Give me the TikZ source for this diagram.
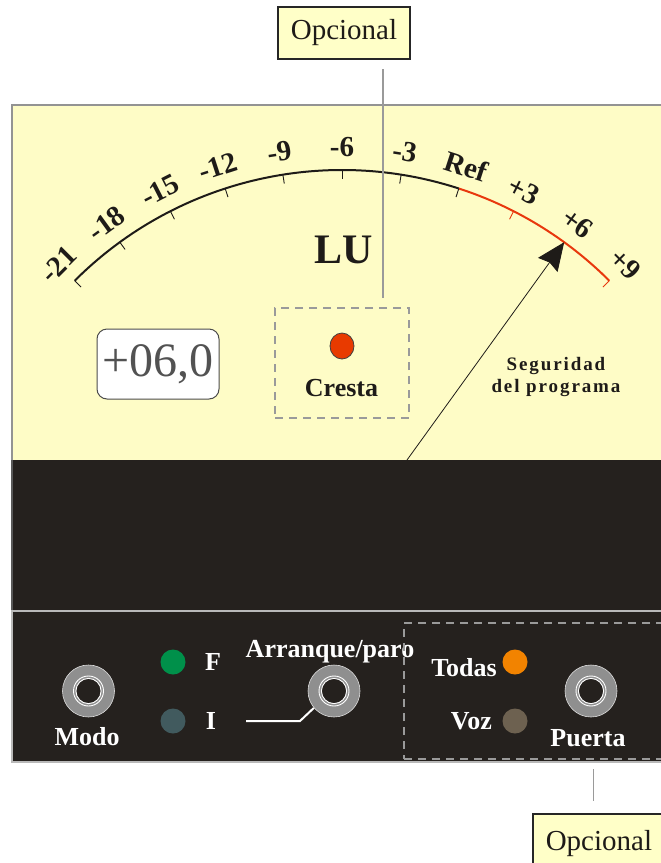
\documentclass[tikz,border=0pt]{standalone}
\usepackage{fontspec}
\setmainfont{Liberation Serif}
\newfontfamily\spacedfont[LetterSpace=10]{Liberation Serif}
\usetikzlibrary{arrows.meta,calc,shapes.geometric}
\definecolor{meteryellow}{HTML}{FEFCC6}
\definecolor{optyellow}{HTML}{FFFFC8}
\definecolor{panelblack}{HTML}{25211E}
\definecolor{scalered}{HTML}{E8380D}
\definecolor{ledred}{HTML}{E83A00}
\definecolor{ledgreen}{HTML}{00904A}
\definecolor{ledslate}{HTML}{415A5E}
\definecolor{ledorange}{HTML}{F28300}
\definecolor{ledbrown}{HTML}{6D6150}
\definecolor{knobgray}{HTML}{8F8F8F}
\definecolor{leadgray}{HTML}{9A9A9A}
\definecolor{inkblack}{HTML}{1E1B18}
\begin{document}
\begin{tikzpicture}[x=1pt,y=-1pt,
  scalelbl/.style={font=\bfseries\fontsize{29}{34}\selectfont, text=inkblack, inner sep=0pt},
  panellbl/.style={font=\bfseries\fontsize{26}{30}\selectfont, text=white, inner sep=0pt},
  meterlbl/.style={font=\bfseries\fontsize{26}{30}\selectfont, text=inkblack, inner sep=0pt},
  optbox/.style={draw=black!85, line width=1.5pt, fill=optyellow, font=\fontsize{29}{34}\selectfont, text=inkblack},
  dashbox/.style={draw=leadgray, line width=1.2pt, dash pattern=on 8pt off 6pt},
  leader/.style={draw=leadgray, line width=1.5pt},
  led/.style={circle, minimum size=25pt, inner sep=0pt},
  knob/.style={circle, minimum size=52pt, inner sep=0pt, fill=knobgray, draw=white!70!knobgray, line width=0.6pt,
    path picture={
      \fill[panelblack] (path picture bounding box.center) circle[radius=12.3];
      \draw[white, line width=0.9pt] (path picture bounding box.center) circle[radius=12.6];
      \draw[white, line width=0.9pt] (path picture bounding box.center) circle[radius=15];
    }},
  display/.style={draw=black!70, line width=1pt, fill=white, rounded corners=10pt, minimum width=122pt, minimum height=70pt, inner sep=0pt, font=\fontsize{48}{50}\selectfont, text=black!68}
]
\useasboundingbox (0,0) rectangle (661,863);
\clip (0,0) rectangle (661,863);

% meter face
\draw[draw=gray!85, line width=1.5pt, fill=meteryellow] (12,105) rectangle (700,611);
\fill[panelblack] (12,460) rectangle (700,610.5);
\draw[draw=gray!70!black, line width=1.5pt] (12,460) -- (12,610.5);

% lower control panel
\draw[draw=gray!55, line width=1.5pt, fill=panelblack] (12,611) rectangle (700,762);

% scale
\coordinate (c) at (342,548);
\draw[line width=2pt, inkblack] ($(c)+(-135:378)$) arc[start angle=-135, end angle=-72, radius=378];
\draw[line width=2pt, scalered] ($(c)+(-72:378)$) arc[start angle=-72, end angle=-45, radius=378];
\foreach \a in {135,126,...,45}{
  \ifnum\a<72
    \draw[line width=0.9pt, scalered] ($(c)+(-\a:369)$) -- ($(c)+(-\a:378)$);
  \else
    \draw[line width=0.9pt, inkblack] ($(c)+(-\a:369)$) -- ($(c)+(-\a:378)$);
  \fi
}
\foreach \a/\t/\n in {135/-21/a,126/-18/b,117/-15/c,108/-12/d,99/-9/e,90/-6/f,81/-3/g,72/Ref/h,63/+3/i,54/+6/j,45/+9/k}
  \node[scalelbl, rotate=\a-90] (lab\n) at ($(c)+(-\a:401)$) {\t};

\node[font=\bfseries\fontsize{42}{46}\selectfont, text=inkblack, inner sep=0pt, anchor=base] (lu) at (343.5,263) {LU};

% display
\node[display] (disp) at (158,364) {+06,0};

% crest indicator
\node[dashbox, minimum width=134pt, minimum height=110pt, inner sep=0pt] (crestbox) at (342,363) {};
\node[ellipse, minimum width=24pt, minimum height=26pt, inner sep=0pt, fill=ledred, draw=black!75, line width=0.8pt] (crestled) at (342,346) {};
\node[meterlbl, anchor=base] (crestlbl) at (341.5,396.5) {Cresta};

% program safety
\node[font=\spacedfont\bfseries\fontsize{19}{23}\selectfont, text=inkblack, inner sep=0pt, anchor=base] (seg1) at (556,370) {Seguridad};
\node[font=\spacedfont\bfseries\fontsize{19}{23}\selectfont, text=inkblack, inner sep=0pt, anchor=base] (seg2) at (556,392) {del programa};

% needle
\coordinate (pivot) at (407,460);
\coordinate (tip) at ($(c)+(-54:378)$);
\draw[line width=0.8pt, inkblack, -{Stealth[length=28pt,width=24pt,inset=3pt]}] (pivot) -- (tip);

% top optional
\node[optbox, minimum width=132pt, minimum height=52pt, inner sep=0pt] (opt1) at (344,33) {Opcional};
\coordinate (lt1) at (383,69);
\draw[leader] (lt1) -- (lt1 |- crestbox.north) [shorten >=9pt];

% controls
\node[knob] (kmodo) at (88.5,691) {};
\node[knob] (karr) at (334,691) {};
\node[knob] (kpuerta) at (591,691) {};

\node[led, fill=ledgreen] (ledF) at (173,662) {};
\node[led, fill=ledslate] (ledI) at (173,721) {};
\node[led, fill=ledorange] (ledT) at (515,662) {};
\node[led, fill=ledbrown] (ledV) at (515,721) {};

\node[panellbl, anchor=base] (lmodo) at (87,745.5) {Modo};
\node[panellbl, anchor=base] (lF) at (213,670.5) {F};
\node[panellbl, anchor=base] (lI) at (211,729) {I};
\node[panellbl, anchor=base] (larr) at (330,657) {Arranque/paro};
\node[panellbl, anchor=base east] (ltodas) at (497,676) {Todas};
\node[panellbl, anchor=base east] (lvoz) at (492,729) {Voz};
\node[panellbl, anchor=base] (lpuerta) at (588,746.5) {Puerta};

\coordinate (iwire) at (246,721);
\draw[white, line width=2pt] (iwire) -- ++(54,0) -- (karr.220);

% gate optional region
\node[dashbox, minimum width=300pt, minimum height=136pt, inner sep=0pt] (gatebox) at (554,691) {};
\coordinate (lb1) at (593.5,769);
\coordinate (lb2) at (593.5,801);
\draw[leader] (lb1) -- (lb2);
\node[optbox, anchor=north west, minimum height=60pt, text width=120pt, align=left, inner xsep=13pt, inner ysep=0pt] (opt2) at (532,813) {Opcional};
\end{tikzpicture}
\end{document}
